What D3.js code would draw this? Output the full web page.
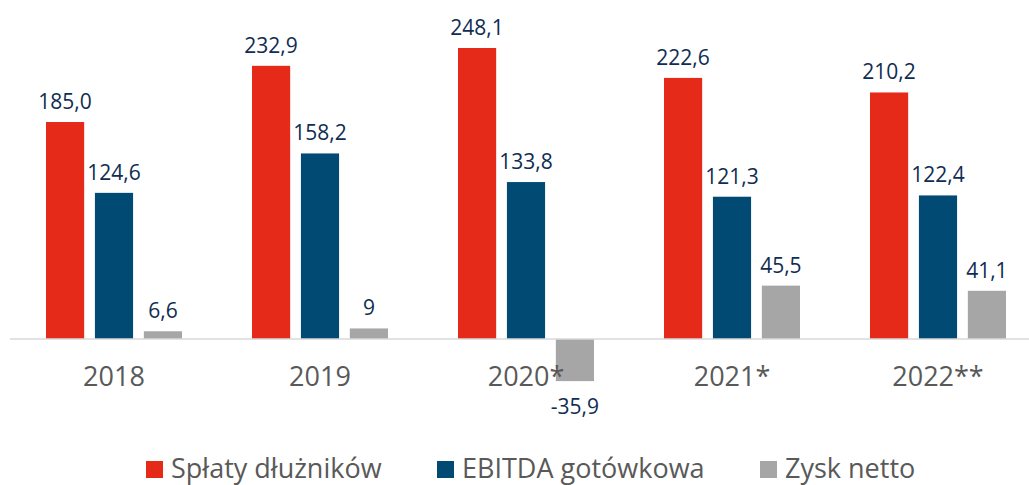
<!DOCTYPE html>
<head lang="pl">
<meta charset="utf-8">
<title>Spłaty dłużników, EBITDA gotówkowa, Zysk netto</title>
<style>
body { margin:0; background:#fff; }
* { font-family:"Open Sans","Noto Sans",sans-serif; }
</style>
<script src="https://cdnjs.cloudflare.com/ajax/libs/d3/7.8.5/d3.min.js"></script>
</head>
<body>
<script>
// chart data
var years = ["2018", "2019", "2020*", "2021*", "2022**"];
var seriesNames = ["Spłaty dłużników", "EBITDA gotówkowa", "Zysk netto"];
var splaty = [185.0, 232.9, 248.1, 222.6, 210.2];
var ebitda = [124.6, 158.2, 133.8, 121.3, 122.4];
var zysk = [6.6, 9, -35.9, 45.5, 41.1];
var labelsSplaty = ["185,0", "232,9", "248,1", "222,6", "210,2"];
var labelsEbitda = ["124,6", "158,2", "133,8", "121,3", "122,4"];
var labelsZysk = ["6,6", "9", "-35,9", "45,5", "41,1"];
var colors = ["#e52a19", "#014a74", "#a6a6a6"];

var width = 1029,
	height = 485;

var svg = d3.select("body").append("svg")
	.attr("width", width)
	.attr("height", height);

// scales
var x0 = d3.scaleBand()
	.domain(years)
	.range([11, 1041])
	.padding(0);

var x1 = d3.scaleBand()
	.domain(seriesNames)
	.range([35, 171])
	.paddingInner(0.22);

var y = d3.scaleLinear()
	.domain([0, 248.1])
	.range([339, 48]);

// build rows from the arrays
var values = [splaty, ebitda, zysk];
var labels = [labelsSplaty, labelsEbitda, labelsZysk];
var rows = [];
years.forEach(function(yr, i) {
	seriesNames.forEach(function(s, j) {
		rows.push({ year: yr, series: s, idx: j, value: values[j][i], label: labels[j][i] });
	});
});

// bars
svg.append("g").selectAll("rect")
	.data(rows)
	.enter()
	.append("rect")
		.attr("x", function(d) { return x0(d.year) + x1(d.series); })
		.attr("y", function(d) { return y(Math.max(0, d.value)); })
		.attr("width", x1.bandwidth())
		.attr("height", function(d) { return Math.abs(y(d.value) - y(0)); })
		.style("fill", function(d) { return colors[d.idx]; });

// zero line
svg.append("line")
	.attr("x1", 10)
	.attr("x2", width)
	.attr("y1", y(0))
	.attr("y2", y(0))
	.style("stroke", "#d9d9d9")
	.style("stroke-width", "1.5px");

// value labels
svg.append("g").selectAll("text")
	.data(rows)
	.enter()
	.append("text")
		.attr("x", function(d) { return x0(d.year) + x1(d.series) + x1.bandwidth() / 2; })
		.attr("y", function(d) { return d.value >= 0 ? y(d.value) - 13 : y(d.value) + 33; })
		.attr("text-anchor", "middle")
		.style("font-size", "21px")
		.style("fill", "#0f2d52")
		.text(function(d) { return d.label; });

// category labels
svg.append("g").selectAll("text")
	.data(years)
	.enter()
	.append("text")
		.attr("x", function(d) { return x0(d) + x0.bandwidth() / 2; })
		.attr("y", 386)
		.attr("text-anchor", "middle")
		.style("font-size", "27px")
		.style("fill", "#595959")
		.text(function(d) { return d; });

// legend
var legendX = [146, 437, 760];
var legend = svg.append("g").selectAll("g")
	.data(seriesNames)
	.enter()
	.append("g")
		.attr("transform", function(d, i) { return "translate(" + legendX[i] + ",461)"; });

legend.append("rect")
	.attr("width", 17)
	.attr("height", 17)
	.style("fill", function(d, i) { return colors[i]; });

legend.append("text")
	.attr("x", 25)
	.attr("y", 17)
	.style("font-size", "27px")
	.style("fill", "#595959")
	.text(function(d) { return d; });
</script>
</body>
</html>
